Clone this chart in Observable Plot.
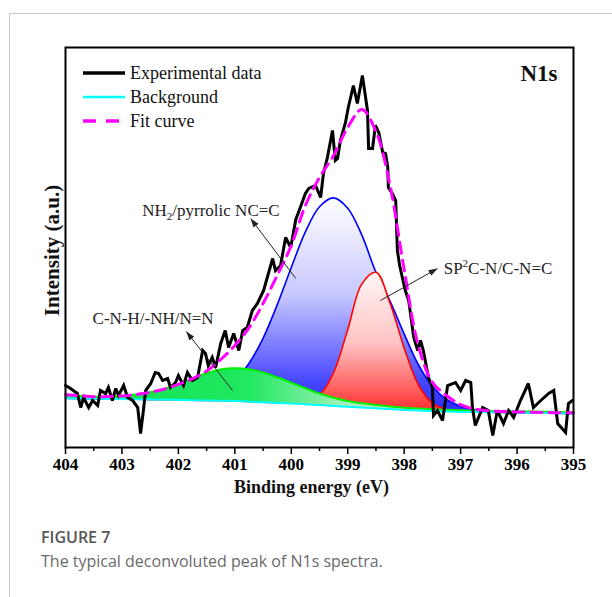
<!DOCTYPE html>
<html><head><meta charset="utf-8">
<script src="https://cdn.jsdelivr.net/npm/d3@7"></script>
<script src="https://cdn.jsdelivr.net/npm/@observablehq/plot@0.6"></script>
<style>
body{margin:0;background:#fff;width:612px;height:597px;overflow:hidden;position:relative}
#card{position:absolute;left:9px;top:13px;right:0;bottom:0;border-left:1px solid #c8c8c8;border-top:1px solid #c8c8c8}
#chart{position:absolute;left:0;top:0}
#cap{position:absolute;left:41px;top:525px;font-family:"Open Sans",sans-serif;line-height:24px}
#cap .t{font-size:16px;font-weight:600;color:#555}
#cap .d{font-size:16px;color:#6a6a6a}
</style></head><body>
<div id="card"></div><div id="chart"></div>
<div id="cap"><div class="t">FIGURE 7</div><div class="d">The typical deconvoluted peak of N1s spectra.</div></div>
<script>
// ---- fitted components on a common energy grid (eV) ----
const energyGrid = [404,403.75,403.5,403.25,403,402.75,402.5,402.25,402,401.75,401.5,401.25,401,400.75,400.5,400.25,400,399.75,399.5,399.25,399,398.75,398.5,398.25,398,397.75,397.5,397.25,397,396.75,396.5,396.25,396,395.75,395.5,395.25,395];
const background = [12.3,12.25,12.2,12.15,12.1,12.05,12.0,11.95,11.9,11.8,11.75,11.7,11.6,11.45,11.3,11.15,11.0,10.8,10.6,10.4,10.2,10.0,9.8,9.6,9.4,9.25,9.1,9.0,8.9,8.85,8.8,8.75,8.7,8.65,8.6,8.55,8.5];
const peakCNH = [0.9,0.7,0.5,0.6,0.8,1.2,1.8,2.7,3.9,5.4,6.8,7.8,8.2,8.1,7.45,6.4,5.2,4.0,2.9,2.05,1.45,1.05,0.8,0.65,0.55,0.5,0.45,0.42,0.4,0.38,0.36,0.34,0.33,0.32,0.31,0.3,0.3];
const peakNH2 = [0,0,0,0,0,0,0.02,0.06,0.18,0.47,1.15,2.56,5.18,9.56,16.0,24.5,34.0,43.1,49.6,52.0,49.6,43.1,34.0,27.0,19.0,11.5,6.2,3.0,1.4,0.6,0.25,0.08,0.02,0,0,0,0];
const peakSP2 = [0,0,0,0,0,0,0,0,0,0,0,0,0,0,0,0,0.07,0.51,2.48,8.35,19.3,30.9,34.0,26.5,15.5,6.5,2.0,0.5,0.1,0,0,0,0,0,0,0,0];
const fitCurve = [13.2,12.95,12.7,12.75,12.9,13.25,13.8,14.6,15.8,17.2,19.1,22.0,25.5,29.9,36.0,43.0,50.5,60.5,67.5,73.0,80.0,84.5,79.0,65.5,44.5,25.5,16.3,13.0,10.7,9.6,9.2,9.0,8.9,8.8,8.75,8.7,8.7];

// ---- experimental spectrum ----
const expEnergy = [404.00,403.91,403.79,403.73,403.68,403.59,403.52,403.43,403.38,403.29,403.24,403.17,403.11,403.06,402.97,402.90,402.81,402.72,402.67,402.62,402.58,402.49,402.41,402.35,402.28,402.19,402.14,402.05,402.00,401.91,401.84,401.75,401.66,401.57,401.52,401.47,401.40,401.34,401.25,401.17,401.11,401.02,400.93,400.86,400.78,400.69,400.60,400.49,400.33,400.28,400.19,400.10,400.01,399.92,399.84,399.75,399.69,399.57,399.48,399.43,399.36,399.27,399.22,399.18,399.13,399.04,398.99,398.92,398.90,398.83,398.74,398.65,398.63,398.56,398.51,398.45,398.38,398.33,398.29,398.28,398.21,398.15,398.12,398.08,397.98,397.92,397.83,397.76,397.71,397.66,397.57,397.50,397.48,397.41,397.32,397.23,397.09,397.00,396.91,396.82,396.79,396.74,396.61,396.51,396.43,396.35,396.24,396.15,396.06,395.94,395.80,395.71,395.58,395.44,395.35,395.28,395.14,395.09,395.02];
const expIntensity = [15.5,14.75,13.5,10,12.5,10,11.75,10.5,14.25,13.5,15,11.75,14.75,13,15.5,12.5,11.75,10,3.5,9.25,14.25,16,18.75,18.5,16.75,17.25,15,16.25,18,15.5,18.75,16.75,17.5,24.25,23.5,20.5,22.5,20,26,29.25,25,28.5,24.25,29.25,30,34.25,36,39.25,47.25,44.25,45.5,52.5,50,57,60,63.5,64.75,65.5,62.5,68.5,72.5,79.25,71.75,72.25,76.75,81.25,85,89.25,90.5,86,93,84.25,74.75,74.75,80.5,78.75,73.75,73.5,70,65,63.5,61.75,49.25,45.5,39.25,36.75,27.5,24.25,26.75,24.25,17.5,15,8,9.25,6.75,15.5,16.25,14.25,16.75,16.25,10,5.5,10,9.25,3,9.25,6,9.25,7.5,11.75,16,10,11.75,13.5,14.25,6,3.75,11,11.75];

// ---- axis ticks ----
const majorTicks = [404,403,402,401,400,399,398,397,396,395];
const minorTicks = [403.5,402.5,401.5,400.5,399.5,398.5,397.5,396.5,395.5];

// ---- annotations ----
const annotLabels = ["C-N-H/-NH/N=N","NH2/pyrrolic NC=C","SP2C-N/C-N=C"];
const annotX = [403.52,402.64,397.30];
const annotY = [31,58,43.5];
const arrowFromX = [401.04,399.92,398.42];
const arrowFromY = [14.25,42.25,36.75];
const arrowToX = [401.86,400.72,397.41];
const arrowToY = [29,57.25,44.75];

const legendLabels = ["Experimental data","Background","Fit curve"];

// tables
const grid = energyGrid.map((E,i)=>({E, bg: background[i],
  cnh: background[i]+peakCNH[i], nh2: background[i]+peakNH2[i], sp2: background[i]+peakSP2[i], fit: fitCurve[i]}));
const exp = expEnergy.map((E,i)=>({E, I: expIntensity[i]}));
const annots = annotLabels.map((label,i)=>({label, x: annotX[i], y: annotY[i], x1: arrowFromX[i], y1: arrowFromY[i], x2: arrowToX[i], y2: arrowToY[i]}));

const serif = '"Liberation Serif","Times New Roman",Times,serif';
const C = "catmull-rom";
const svg = Plot.plot({
  width: 612, height: 510,
  marginLeft: 65, marginRight: 39, marginTop: 47, marginBottom: 63,
  x: {domain: [404, 395]},
  y: {domain: [0, 100], axis: null},
  style: {fontFamily: serif, background: "transparent", color: "#000", overflow: "visible"},
  marks: [
    Plot.areaY(grid, {x: "E", y1: "bg", y2: "nh2", fill: "url(#gBlue)", curve: C}),
    Plot.lineY(grid, {x: "E", y: "nh2", stroke: "#0000ff", strokeWidth: 1.6, curve: C}),
    Plot.areaY(grid, {x: "E", y1: "bg", y2: "sp2", fill: "url(#gRed)", curve: C}),
    Plot.lineY(grid, {x: "E", y: "sp2", stroke: "#ff0000", strokeWidth: 1.6, curve: C}),
    Plot.areaY(grid, {x: "E", y1: "bg", y2: "cnh", fill: "url(#gGreen)", curve: C}),
    Plot.lineY(grid, {x: "E", y: "cnh", stroke: "#00f000", strokeWidth: 2, curve: C}),
    Plot.lineY(grid, {x: "E", y: "bg", stroke: "#00ffff", strokeWidth: 2, curve: C}),
    Plot.lineY(exp, {x: "E", y: "I", stroke: "#000", strokeWidth: 3, strokeLinejoin: "miter", strokeMiterlimit: 3}),
    Plot.lineY(grid, {x: "E", y: "fit", stroke: "#ff00ff", strokeWidth: 3, strokeDasharray: "11,7", curve: C}),
    Plot.axisX({ticks: minorTicks, tickSize: 4, tickFormat: () => "", label: null, strokeWidth: 1.5}),
    Plot.axisX({ticks: majorTicks, tickSize: 7, tickPadding: 3, tickFormat: d => String(d), label: null,
      strokeWidth: 1.5, fontSize: 17, fontWeight: "bold", fill: "#000", className: "major-axis"}),
    Plot.frame({stroke: "#000", strokeWidth: 2}),
    Plot.link(annots, {x1: "x1", y1: "y1", x2: "x2", y2: "y2", stroke: "#222", strokeWidth: 1, className: "ann-arrow"}),
    Plot.text(annots, {x: "x", y: "y", text: "label", textAnchor: "start", lineAnchor: "bottom", fontSize: 17, fill: "#222", className: "ann-text"}),
    Plot.text(["N1s"], {frameAnchor: "top-right", textAnchor: "end", lineAnchor: "bottom", dx: -16, dy: 33, fontSize: 23, fontWeight: "bold", fill: "#111"}),
    Plot.text(["Binding energy (eV)"], {frameAnchor: "bottom", textAnchor: "middle", lineAnchor: "bottom", dx: -8, dy: 45, fontSize: 18, fontWeight: "bold", fill: "#111"}),
    Plot.text(["Intensity (a.u.)"], {frameAnchor: "left", textAnchor: "middle", rotate: -90, lineAnchor: "middle", dx: -13, dy: 3, fontSize: 21, fontWeight: "bold", fill: "#111"})
  ]
});

const ns = "http://www.w3.org/2000/svg";
const defs = document.createElementNS(ns, "defs");
defs.innerHTML = `
<linearGradient id="gBlue" x1="0" y1="0" x2="0" y2="1">
  <stop offset="0" stop-color="#ffffff"/><stop offset="0.45" stop-color="#c8c8ff"/>
  <stop offset="0.85" stop-color="#4848ff"/><stop offset="1" stop-color="#2a2aff"/></linearGradient>
<linearGradient id="gRed" x1="0" y1="0" x2="0" y2="1">
  <stop offset="0" stop-color="#fff6f6"/><stop offset="0.5" stop-color="#ffc4c4"/>
  <stop offset="1" stop-color="#ff2a2a"/></linearGradient>
<linearGradient id="gGreen" x1="0" y1="0" x2="1" y2="0">
  <stop offset="0" stop-color="#10e050"/><stop offset="0.36" stop-color="#20e860"/>
  <stop offset="0.56" stop-color="#a8f0bc"/><stop offset="1" stop-color="#e8fcee"/></linearGradient>
<marker id="ah" viewBox="0 0 10 10" refX="10" refY="5" markerWidth="9" markerHeight="9" markerUnits="userSpaceOnUse" orient="auto">
  <path d="M0,1.5L10,5L0,8.5Z" fill="#222"/></marker>`;
svg.insertBefore(defs, svg.firstChild);

svg.querySelectorAll(".ann-arrow path").forEach(p => p.setAttribute("marker-end", "url(#ah)"));
svg.querySelectorAll(".major-axis text, .major-axis").forEach(t => { t.style.fontWeight = "bold"; t.style.fontSize = "17px"; });

// sub/superscripts in annotations
svg.querySelectorAll(".ann-text text").forEach(t => {
  const s = t.textContent;
  const mk = (txt, attrs) => { const ts = document.createElementNS(ns, "tspan"); ts.textContent = txt;
    for (const k in attrs) ts.setAttribute(k, attrs[k]); return ts; };
  if (s.startsWith("NH2")) {
    t.textContent = ""; t.appendChild(mk("NH", {})); t.appendChild(mk("2", {dy: "4", "font-size": "11"}));
    t.appendChild(mk(s.slice(3), {dy: "-4"}));
  } else if (s.startsWith("SP2")) {
    t.textContent = ""; t.appendChild(mk("SP", {})); t.appendChild(mk("2", {dy: "-7", "font-size": "11"}));
    t.appendChild(mk(s.slice(3), {dy: "7"}));
  }
});

// legend inside the frame (top-left)
const lg = document.createElementNS(ns, "g");
lg.setAttribute("font-family", serif); lg.setAttribute("font-size", "18"); lg.setAttribute("text-anchor", "start");
const styles = [{stroke: "#000", w: 3.5, dash: null}, {stroke: "#00ffff", w: 2.5, dash: null}, {stroke: "#ff00ff", w: 3.5, dash: "13,10"}];
legendLabels.forEach((label, i) => {
  const y = 47 + 26 + i * 24;
  const l = document.createElementNS(ns, "line");
  l.setAttribute("x1", 83); l.setAttribute("x2", 125); l.setAttribute("y1", y); l.setAttribute("y2", y);
  l.setAttribute("stroke", styles[i].stroke); l.setAttribute("stroke-width", styles[i].w);
  if (styles[i].dash) l.setAttribute("stroke-dasharray", styles[i].dash);
  lg.appendChild(l);
  const t = document.createElementNS(ns, "text");
  t.setAttribute("x", 130); t.setAttribute("y", y); t.setAttribute("dy", "0.32em"); t.setAttribute("fill", "#111");
  t.setAttribute("text-anchor", "start");
  t.textContent = label; lg.appendChild(t);
});
svg.appendChild(lg);

document.getElementById("chart").appendChild(svg);
</script></body></html>
